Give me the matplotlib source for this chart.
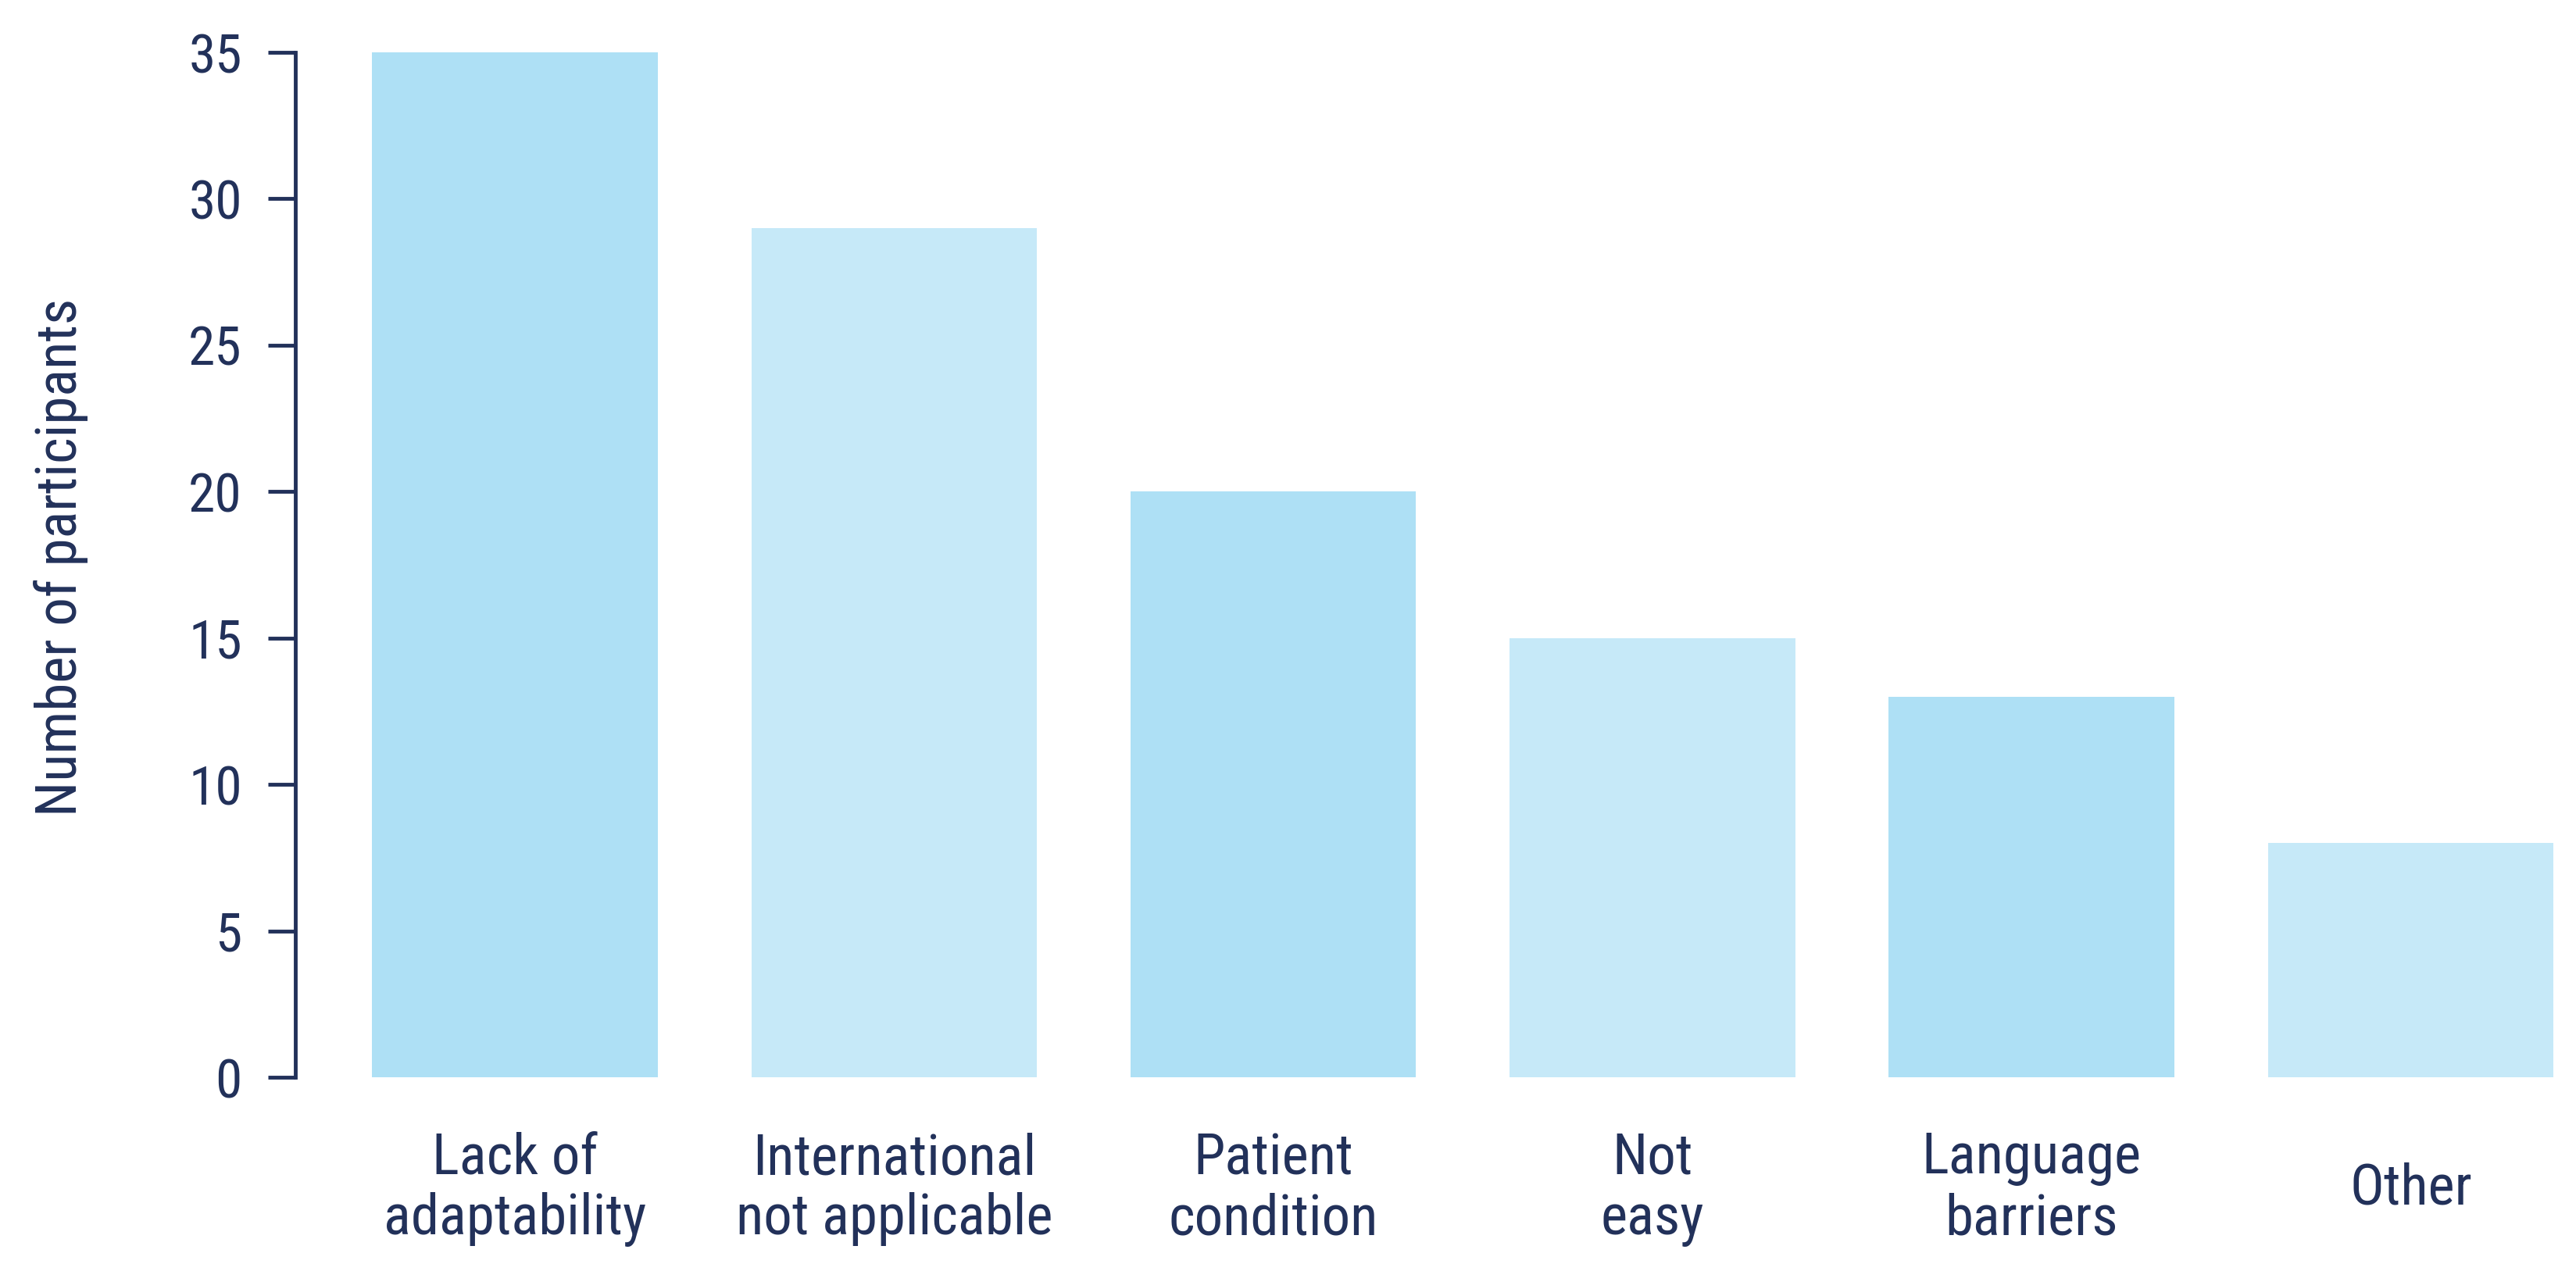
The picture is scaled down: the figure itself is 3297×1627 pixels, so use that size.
import matplotlib.pyplot as plt
import numpy as np

# reasons given by participants
categories = ['Lack of\nadaptability', 'International\nnot applicable', 'Patient\ncondition',
              'Not\neasy', 'Language\nbarriers', 'Other']
counts = [35, 29, 20, 15, 13, 8]
yticks = [0, 5, 10, 15, 20, 25, 30, 35]

navy = '#22315a'
dark_blue = '#aee0f5'
light_blue = '#c6e9f8'

plt.rcParams['font.family'] = ['Roboto Condensed', 'Archivo Narrow', 'Liberation Sans', 'DejaVu Sans']

fig = plt.figure(figsize=(32.97, 16.27), dpi=100)
ax = fig.add_axes([0.1148, 0.1524, 0.9912 - 0.1148, 0.9588 - 0.1524])

x = np.arange(len(categories))
colors = [dark_blue if i % 2 == 0 else light_blue for i in x]
ax.bar(x, counts, width=0.753, color=colors)

ax.set_xlim(-0.578, 5.376)
ax.set_ylim(0, 35)
ax.set_yticks(yticks)
ax.set_yticklabels([str(t) for t in yticks])
ax.set_xticks(x)
ax.set_xticklabels(categories)

for s in ['top', 'right', 'bottom']:
    ax.spines[s].set_visible(False)
ax.spines['left'].set_color(navy)
ax.spines['left'].set_linewidth(3.5)

ax.tick_params(axis='y', length=25.5, width=3.5, color=navy, pad=24,
               labelsize=50, labelcolor=navy)
ax.tick_params(axis='x', length=0, pad=103, labelsize=52.5, labelcolor=navy)
for lab in ax.get_xticklabels():
    lab.set_va('center')
    lab.set_linespacing(1.15)

ax.set_ylabel('Number of participants', fontsize=52.5, color=navy)
ax.yaxis.set_label_coords(-0.092, 0.507)

fig.savefig('out.png', dpi=100)
